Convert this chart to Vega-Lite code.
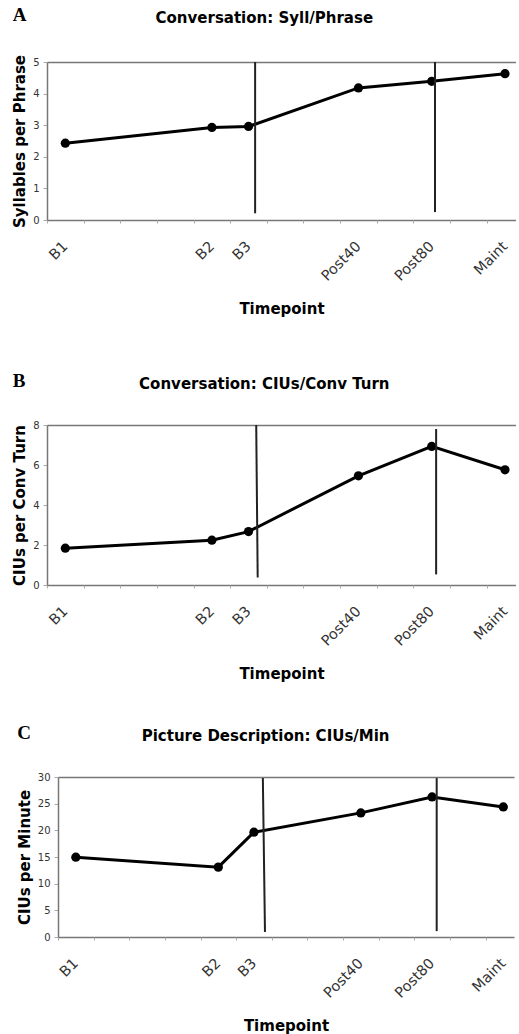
{
  "$schema": "https://vega.github.io/schema/vega-lite/v6.json",
  "background": "white",
  "padding": {"left": 12, "top": 6, "right": 0, "bottom": 0},
  "spacing": 42,
  "config": {
    "font": "DejaVu Sans",
    "view": {"stroke": null},
    "axis": {"grid": false, "domainColor": "#777", "domainWidth": 1.5, "labelColor": "#333", "labelFont": "DejaVu Sans", "labelFontSize": 10, "tickColor": "#aaa", "tickSize": 3, "titleFont": "DejaVu Sans", "titleFontWeight": "bold", "titleFontSize": 15, "titleColor": "black"},
    "title": {"font": "DejaVu Sans", "fontSize": 15, "fontWeight": "bold", "color": "black", "frame": "bounds"}
  },
  "vconcat": [
    {
      "spacing": 55,
      "vconcat": [
        {
          "title": {"text": "A", "anchor": "start", "font": "Liberation Serif", "fontSize": 19, "fontWeight": "bold", "dy": 14, "offset": 0},
          "vconcat": [
            {
              "title": {"text": "Conversation: Syll/Phrase", "anchor": "middle", "offset": 28},
              "width": 469,
              "height": 158,
              "data": {"values": [
                {"timepoint": "B1", "session": 0.5, "value": 2.43},
                {"timepoint": "B2", "session": 4.5, "value": 2.93},
                {"timepoint": "B3", "session": 5.5, "value": 2.96},
                {"timepoint": "Post40", "session": 8.5, "value": 4.18},
                {"timepoint": "Post80", "session": 10.5, "value": 4.39},
                {"timepoint": "Maint", "session": 12.5, "value": 4.63}
              ]},
              "encoding": {
                "y": {"field": "value", "type": "quantitative", "scale": {"domain": [0, 5], "nice": false},
                  "axis": {"values": [0, 1, 2, 3, 4, 5], "title": "Syllables per Phrase", "tickSize": 4, "labelPadding": 4, "titlePadding": 5}}
              },
              "layer": [
                {
                  "mark": {"type": "line", "color": "black", "strokeWidth": 3},
                  "encoding": {
                    "x": {"field": "session", "type": "quantitative", "scale": {"domain": [0, 12.8], "nice": false},
                      "axis": {"orient": "bottom", "values": [0.5, 4.5, 5.5, 8.5, 10.5, 12.5], "ticks": false, "labelAngle": -45, "labelPadding": 19, "labelOffset": -5, "labelFontSize": 14.5, "title": "Timepoint", "titlePadding": 18,
                        "labelExpr": "datum.value == 0.5 ? 'B1' : datum.value == 4.5 ? 'B2' : datum.value == 5.5 ? 'B3' : datum.value == 8.5 ? 'Post40' : datum.value == 10.5 ? 'Post80' : 'Maint'"}}
                  }
                },
                {
                  "mark": {"type": "circle", "color": "black", "size": 85, "opacity": 1},
                  "encoding": {
                    "x": {"field": "session", "type": "quantitative", "axis": {"orient": "top", "labels": false, "ticks": false, "title": null}}
                  }
                },
                {
                  "data": {"values": [
                    {"phase": "treatment start", "xa": 5.68, "xb": 5.68, "value": 5, "value_end": 0.21},
                    {"phase": "treatment end", "xa": 10.59, "xb": 10.59, "value": 5, "value_end": 0.25}
                  ]},
                  "mark": {"type": "rule", "color": "#222", "strokeWidth": 2},
                  "encoding": {
                    "x": {"field": "xa", "type": "quantitative", "axis": {"orient": "bottom", "values": [0,1,2,3,4,5,6,7,8,9,10,11,12], "labels": false, "domain": false, "title": null}},
                    "x2": {"field": "xb"},
                    "y2": {"field": "value_end"}
                  }
                }
              ],
              "resolve": {"axis": {"x": "independent"}}
            }
          ]
        },
        {
          "title": {"text": "B", "anchor": "start", "font": "Liberation Serif", "fontSize": 19, "fontWeight": "bold", "dy": 14, "offset": 0},
          "vconcat": [
            {
              "title": {"text": "Conversation: CIUs/Conv Turn", "anchor": "middle", "offset": 28},
              "width": 469,
              "height": 160,
              "data": {"values": [
                {"timepoint": "B1", "session": 0.5, "value": 1.84},
                {"timepoint": "B2", "session": 4.5, "value": 2.24},
                {"timepoint": "B3", "session": 5.5, "value": 2.67},
                {"timepoint": "Post40", "session": 8.5, "value": 5.46},
                {"timepoint": "Post80", "session": 10.5, "value": 6.93},
                {"timepoint": "Maint", "session": 12.5, "value": 5.76}
              ]},
              "encoding": {
                "y": {"field": "value", "type": "quantitative", "scale": {"domain": [0, 8], "nice": false},
                  "axis": {"values": [0, 2, 4, 6, 8], "title": "CIUs per Conv Turn", "tickSize": 4, "labelPadding": 4, "titlePadding": 5}}
              },
              "layer": [
                {
                  "mark": {"type": "line", "color": "black", "strokeWidth": 3},
                  "encoding": {
                    "x": {"field": "session", "type": "quantitative", "scale": {"domain": [0, 12.8], "nice": false},
                      "axis": {"orient": "bottom", "values": [0.5, 4.5, 5.5, 8.5, 10.5, 12.5], "ticks": false, "labelAngle": -45, "labelPadding": 19, "labelOffset": -5, "labelFontSize": 14.5, "title": "Timepoint", "titlePadding": 18,
                        "labelExpr": "datum.value == 0.5 ? 'B1' : datum.value == 4.5 ? 'B2' : datum.value == 5.5 ? 'B3' : datum.value == 8.5 ? 'Post40' : datum.value == 10.5 ? 'Post80' : 'Maint'"}}
                  }
                },
                {
                  "mark": {"type": "circle", "color": "black", "size": 85, "opacity": 1},
                  "encoding": {
                    "x": {"field": "session", "type": "quantitative", "axis": {"orient": "top", "labels": false, "ticks": false, "title": null}}
                  }
                },
                {
                  "data": {"values": [
                    {"phase": "treatment start", "xa": 5.71, "xb": 5.75, "value": 8, "value_end": 0.37},
                    {"phase": "treatment end", "xa": 10.62, "xb": 10.62, "value": 7.8, "value_end": 0.53}
                  ]},
                  "mark": {"type": "rule", "color": "#222", "strokeWidth": 2},
                  "encoding": {
                    "x": {"field": "xa", "type": "quantitative", "axis": {"orient": "bottom", "values": [0,1,2,3,4,5,6,7,8,9,10,11,12], "labels": false, "domain": false, "title": null}},
                    "x2": {"field": "xb"},
                    "y2": {"field": "value_end"}
                  }
                }
              ],
              "resolve": {"axis": {"x": "independent"}}
            }
          ]
        }
      ]
    },
    {
      "title": {"text": "C", "anchor": "start", "font": "Liberation Serif", "fontSize": 19, "fontWeight": "bold", "dy": 14, "offset": 0},
      "vconcat": [
        {
          "title": {"text": "Picture Description: CIUs/Min", "anchor": "middle", "offset": 28},
          "width": 467,
          "height": 160,
          "data": {"values": [
            {"timepoint": "B1", "session": 0.5, "value": 14.97},
            {"timepoint": "B2", "session": 4.5, "value": 13.1},
            {"timepoint": "B3", "session": 5.5, "value": 19.65},
            {"timepoint": "Post40", "session": 8.5, "value": 23.27},
            {"timepoint": "Post80", "session": 10.5, "value": 26.26},
            {"timepoint": "Maint", "session": 12.5, "value": 24.39}
          ]},
          "encoding": {
            "y": {"field": "value", "type": "quantitative", "scale": {"domain": [0, 30], "nice": false},
              "axis": {"values": [0, 5, 10, 15, 20, 25, 30], "title": "CIUs per Minute", "tickSize": 4, "labelPadding": 4, "titlePadding": 5, "offset": -11}}
          },
          "layer": [
            {
              "mark": {"type": "line", "color": "black", "strokeWidth": 3},
              "encoding": {
                "x": {"field": "session", "type": "quantitative", "scale": {"domain": [0, 12.8], "nice": false, "range": [11, 467]},
                  "axis": {"orient": "bottom", "values": [0.5, 4.5, 5.5, 8.5, 10.5, 12.5], "ticks": false, "labelAngle": -45, "labelPadding": 19, "labelOffset": -5, "labelFontSize": 14.5, "title": "Timepoint", "titlePadding": 18,
                    "labelExpr": "datum.value == 0.5 ? 'B1' : datum.value == 4.5 ? 'B2' : datum.value == 5.5 ? 'B3' : datum.value == 8.5 ? 'Post40' : datum.value == 10.5 ? 'Post80' : 'Maint'"}}
              }
            },
            {
              "mark": {"type": "circle", "color": "black", "size": 85, "opacity": 1},
              "encoding": {
                "x": {"field": "session", "type": "quantitative", "axis": {"orient": "top", "labels": false, "ticks": false, "title": null}}
              }
            },
            {
              "data": {"values": [
                {"phase": "treatment start", "xa": 5.75, "xb": 5.81, "value": 29.8, "value_end": 0.94},
                {"phase": "treatment end", "xa": 10.63, "xb": 10.63, "value": 29.8, "value_end": 1.1}
              ]},
              "mark": {"type": "rule", "color": "#222", "strokeWidth": 2},
              "encoding": {
                "x": {"field": "xa", "type": "quantitative", "axis": {"orient": "bottom", "values": [0,1,2,3,4,5,6,7,8,9,10,11,12], "labels": false, "domain": false, "title": null}},
                "x2": {"field": "xb"},
                "y2": {"field": "value_end"}
              }
            }
          ],
          "resolve": {"axis": {"x": "independent"}}
        }
      ]
    }
  ]
}
